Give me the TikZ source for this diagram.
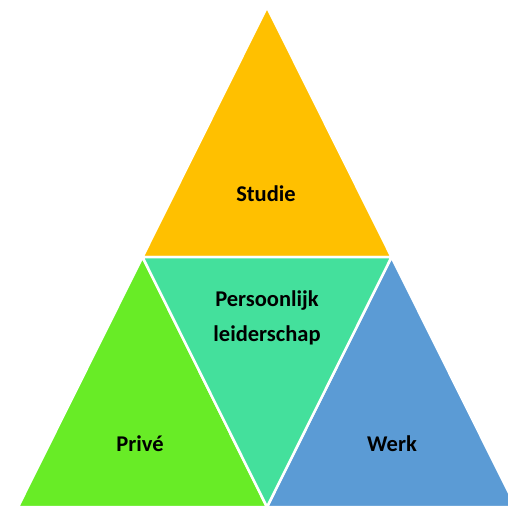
\documentclass[tikz,border=0pt]{standalone}
\usepackage{fontspec}
\setmainfont{Carlito}
\definecolor{cOrange}{HTML}{FFC000}
\definecolor{cLime}{HTML}{68EC26}
\definecolor{cTeal}{HTML}{44E09C}
\definecolor{cBlue}{HTML}{5B9BD5}
\begin{document}
\begin{tikzpicture}[x=1pt,y=-1pt,
  tri/.style={draw=white,line width=2.5pt,line join=miter},
  lbl/.style={font=\bfseries\fontsize{22.5}{35}\selectfont,text=black,align=center}]
\useasboundingbox (0,0) rectangle (508,506);
\clip (0,0) rectangle (508,506);
\fill[white] (0,0) rectangle (508,506);
\coordinate (A) at (267,7);
\coordinate (L) at (142.5,257);
\coordinate (R) at (391.5,257);
\coordinate (BL) at (18,507);
\coordinate (BM) at (267,507);
\coordinate (BR) at (516,507);
\filldraw[tri,fill=cOrange] (A) -- (L) -- (R) -- cycle;
\filldraw[tri,fill=cLime] (L) -- (BM) -- (BL) -- cycle;
\filldraw[tri,fill=cBlue] (R) -- (BR) -- (BM) -- cycle;
\filldraw[tri,fill=cTeal] (L) -- (R) -- (BM) -- cycle;
\node[lbl] (studie) at (266,194) {Studie};
\node[lbl] (pl) at (267,318) {Persoonlijk\\leiderschap};
\node[lbl] (prive) at (140,444) {Privé};
\node[lbl] (werk) at (392,444) {Werk};
\end{tikzpicture}
\end{document}
